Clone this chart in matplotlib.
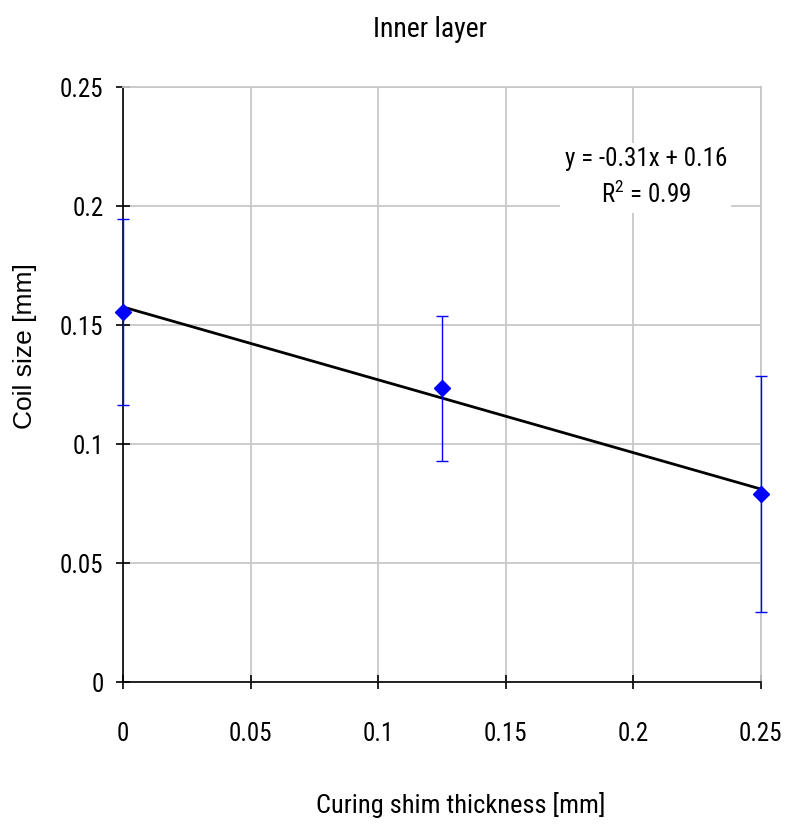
import numpy as np
import matplotlib.pyplot as plt
from matplotlib import font_manager

# measured coil size vs curing shim thickness
shim = [0.0, 0.125, 0.25]
coil = [0.1555, 0.1235, 0.079]
err = [0.039, 0.0305, 0.0494]

xticks = [0, 0.05, 0.1, 0.15, 0.2, 0.25]
yticks = [0, 0.05, 0.1, 0.15, 0.2, 0.25]

names = {f.name for f in font_manager.fontManager.ttflist}
narrow = next((n for n in ['Liberation Sans Narrow', 'Roboto Condensed', 'Archivo Narrow',
                           'Liberation Sans'] if n in names), 'DejaVu Sans')

fig = plt.figure(figsize=(7.86, 8.25), dpi=100)
ax = fig.add_axes([0.1565, 0.1733, 0.8115, 0.7212])

# linear trendline through the points
slope, icpt = np.polyfit(shim, coil, 1)
xs = np.array([shim[0], shim[-1]])
ax.plot(xs, slope * xs + icpt, color='black', lw=2, zorder=3)

ax.errorbar(shim, coil, yerr=err, fmt='D', color='blue', ms=8, ecolor='blue',
            elinewidth=1, capsize=4, capthick=1, zorder=4, clip_on=False)

ax.set_xlim(0, 0.25)
ax.set_ylim(0, 0.25)
ax.set_xticks(xticks)
ax.set_yticks(yticks)
ax.set_xticklabels([f'{v:g}' for v in xticks], fontname=narrow, fontsize=18)
ax.set_yticklabels([f'{v:g}' for v in yticks], fontname=narrow, fontsize=18)
ax.grid(True, color='#c8c8c8', lw=1.3)
ax.set_axisbelow(True)
for s in ['top', 'right']:
    ax.spines[s].set_color('#c8c8c8')
    ax.spines[s].set_linewidth(1.3)
for s in ['left', 'bottom']:
    ax.spines[s].set_color('black')
    ax.spines[s].set_linewidth(1.2)
ax.tick_params(direction='inout', length=10, width=1.2, color='black')
ax.tick_params(axis='y', pad=9)
ax.tick_params(axis='x', pad=24)

ax.set_title('Inner layer', fontname=narrow, fontsize=20, pad=36, x=0.481)
ax.set_xlabel('Curing shim thickness [mm]', fontname=narrow, fontsize=19)
ax.xaxis.set_label_coords(0.529, -0.185)
ax.set_ylabel('Coil size [mm]', fontname='Liberation Sans', fontsize=19)
ax.yaxis.set_label_coords(-0.135, 0.565)

ax.text(0.2049, 0.2118, 'y = -0.31x + 0.16\n$\\mathregular{R^2}$ = 0.99', ha='center', va='center',
        fontname=narrow, fontsize=18, linespacing=1.45,
        bbox=dict(facecolor='white', edgecolor='none', pad=3))

fig.savefig('out.png', dpi=100)
